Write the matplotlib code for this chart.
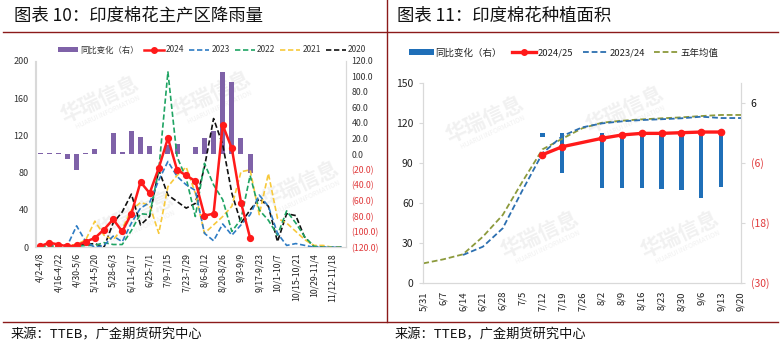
import matplotlib
matplotlib.use("Agg")
import matplotlib.pyplot as plt
import numpy as np
import pandas as pd
from matplotlib.lines import Line2D
from matplotlib.patches import Patch

plt.rcParams['font.family'] = ['Noto Sans CJK SC', 'DejaVu Sans']
plt.rcParams['axes.unicode_minus'] = False

nan = np.nan

# ---------------- Chart 10: weekly rainfall in cotton regions ----------------
week_labels = [
    "4/2-4/8", "4/9-4/15", "4/16-4/22", "4/23-4/29", "4/30-5/6", "5/7-5/13",
    "5/14-5/20", "5/21-5/27", "5/28-6/3", "6/4-6/10", "6/11-6/17", "6/18-6/24",
    "6/25-7/1", "7/2-7/8", "7/9-7/15", "7/16-7/22", "7/23-7/29", "7/30-8/5",
    "8/6-8/12", "8/13-8/19", "8/20-8/26", "8/27-9/2", "9/3-9/9", "9/10-9/16",
    "9/17-9/23", "9/24-9/30", "10/1-10/7", "10/8-10/14", "10/15-10/21",
    "10/22-10/28", "10/29-11/4", "11/5-11/11", "11/12-11/18", "11/19-11/25",
]
rain_yoy = [1, 1, 1, -6, -20, 1, 7, nan, 27, 3, 29, 22, 10, nan, 12, 13, nan,
            9, 21, 30, 105, 93, 21, -25] + [nan] * 10
rain_2024 = [1, 5, 3, 1, 2, 6, 10, 19, 30, 17, 36, 70, 58, 85, 117, 83, 77, 71,
             34, 36, 131, 106, 48, 10] + [nan] * 10
rain_2023 = [3, 2, 3, 2, 23, 6, 0, 2, 12, 6, 26, 42, 48, 72, 92, 76, 67, 61,
             15, 7, 25, 13, 24, 35, 56, 44, 15, 2, 4, 2, 0, 0, 0, 0]
rain_2022 = [1, 1, 2, 1, 1, 2, 2, 5, 3, 3, 18, 36, 35, 83, 188, 97, 74, 33,
             90, 67, 51, 17, 30, 77, 40, 29, 13, 39, 26, 11, 1, 0, 0, 0]
rain_2021 = [1, 1, 2, 2, 3, 8, 28, 13, 8, 20, 40, 48, 45, 15, 65, 77, 86, 58,
             15, 24, 33, 44, 81, 83, 35, 79, 31, 26, 17, 8, 2, 2, 0, 0]
rain_2020 = [1, 1, 1, 2, 2, 3, 4, 0, 26, 38, 57, 24, 33, 83, 56, 49, 42, 47,
             86, 138, 110, 58, 26, 40, 52, 44, 6, 36, 34, 10, 1, 0, 0, 0]

# ---------------- Chart 11: cotton sowing area ----------------
area_dates = pd.date_range("2024-05-31", "2024-09-20", freq="7D")
area_labels = ["5/31", "6/7", "6/14", "6/21", "6/28", "7/5", "7/12", "7/19",
               "7/26", "8/2", "8/9", "8/16", "8/23", "8/30", "9/6", "9/13", "9/20"]
area_avg5 = [14.5, 17.5, 21.3, 34.5, 50.8, 76, 100, 108, 115.8, 120, 121.5,
             122.5, 123.3, 124, 125, 125.8, 125.8]
area_2023 = [nan, nan, 20.8, 27, 40.8, 69.5, 97, 110, 116.5, 119.5, 121, 122,
             122.6, 123.3, 124.5, 123.5, 123.5]
cur_dates = pd.to_datetime(["2024-07-12", "2024-07-19", "2024-08-02", "2024-08-09",
                            "2024-08-16", "2024-08-23", "2024-08-30", "2024-09-06",
                            "2024-09-13"])
area_2024 = [96, 102, 108.3, 110.8, 112, 112, 112.5, 113, 113]
area_yoy = [-0.8, -8, -11, -11, -11, -11.3, -11.5, -13, -10.8]

W, H = 784, 350
fig = plt.figure(figsize=(W / 100, H / 100), dpi=100)

RED = "#FF1A1A"
NEG = "#E0393B"
SPINE = "#D9D9D9"
FRAME = "#8B1A1A"


def frac_x(px):
    return px / W


def frac_y(py):
    return 1 - py / H


def rect(x0, y0, x1, y1):
    return [frac_x(x0), frac_y(y1), frac_x(x1 - x0), frac_y(y0) - frac_y(y1)]


def paren_fmt(v, dec):
    if v < 0:
        return f"({abs(v):.{dec}f})"
    return f"{v:.{dec}f}"


def style_axes(ax):
    ax.spines["top"].set_visible(False)
    for side in ("left", "right", "bottom"):
        ax.spines[side].set_color(SPINE)
        ax.spines[side].set_linewidth(0.8)
    ax.set_facecolor("none")


def watermark(x, y, size=15):
    fig.text(frac_x(x), frac_y(y), "华瑞信息", fontsize=size, color="#D0D0D0",
             rotation=25, ha="center", va="center", zorder=-5, fontweight="bold",
             alpha=0.3)
    fig.text(frac_x(x + 8), frac_y(y + 12), "HUARUI INFORMATION", fontsize=size * 0.32,
             color="#D0D0D0", rotation=25, ha="center", va="center", zorder=-5,
             alpha=0.3)


# ---------- left chart ----------
x_idx = np.arange(len(week_labels))
axb = fig.add_axes(rect(35.5, 60.7, 346, 247.3))
axl = axb.twinx()
style_axes(axb)
style_axes(axl)

axb.bar(x_idx, rain_yoy, width=0.55, color="#7F62A8", zorder=1)
axb.set_ylim(-120, 120)
axb.set_yticks(np.arange(-120, 121, 20))
axb.yaxis.tick_right()
axb.set_yticklabels([paren_fmt(v, 1) for v in np.arange(-120, 121, 20)])
for lab, v in zip(axb.get_yticklabels(), np.arange(-120, 121, 20)):
    lab.set_color(NEG if v < 0 else "#333333")
axb.tick_params(axis="y", labelsize=6.3, length=0, pad=4)

dash = (0, (3.2, 1.6))
axl.plot(x_idx, rain_2020, color="#111111", lw=1.2, linestyle=dash)
axl.plot(x_idx, rain_2021, color="#F7C93B", lw=1.2, linestyle=dash)
axl.plot(x_idx, rain_2022, color="#1FA463", lw=1.2, linestyle=dash)
axl.plot(x_idx, rain_2023, color="#2E7CC4", lw=1.2, linestyle=dash)
axl.plot(x_idx, rain_2024, color=RED, lw=1.8, marker="o", markersize=4.2)
axl.set_ylim(0, 200)
axl.set_yticks(np.arange(0, 201, 40))
axl.yaxis.tick_left()
axl.tick_params(axis="y", labelsize=6.5, length=0, pad=5, labelcolor="#333333")
axl.set_xlim(-0.5, len(week_labels) - 0.5)

axb.set_xticks(x_idx[::2])
axb.set_xticklabels(week_labels[::2], rotation=90, fontsize=6.3, color="#222222")
axb.tick_params(axis="x", length=0, pad=4)
axl.tick_params(axis="x", length=0)

handles_l = [
    Patch(facecolor="#7F62A8"),
    Line2D([], [], color=RED, lw=1.8, marker="o", markersize=4),
    Line2D([], [], color="#2E7CC4", lw=1.2, linestyle=dash),
    Line2D([], [], color="#1FA463", lw=1.2, linestyle=dash),
    Line2D([], [], color="#F7C93B", lw=1.2, linestyle=dash),
    Line2D([], [], color="#111111", lw=1.2, linestyle=dash),
]
labels_l = ["同比变化（右）", "2024", "2023", "2022", "2021", "2020"]
fig.legend(handles_l, labels_l, loc="center", bbox_to_anchor=(frac_x(212), frac_y(50)),
           ncol=6, frameon=False, fontsize=6.0, handlelength=2.4, handleheight=0.5,
           columnspacing=0.6, handletextpad=0.25, labelcolor="#333333")

# ---------- right chart ----------
axr = fig.add_axes(rect(423.3, 82.7, 741, 282.7))
axr2 = axr.twinx()
style_axes(axr)
style_axes(axr2)

axr.bar(cur_dates, area_yoy, width=1.5, color="#1F6FB8", zorder=1)
axr.set_ylim(-30, 10)
axr.set_yticks([-30, -18, -6, 6])
axr.yaxis.tick_right()
axr.set_yticklabels([paren_fmt(v, 0) for v in [-30, -18, -6, 6]])
for lab, v in zip(axr.get_yticklabels(), [-30, -18, -6, 6]):
    lab.set_color(NEG if v < 0 else "#111111")
axr.tick_params(axis="y", labelsize=7.5, length=3, color=SPINE, pad=4)

axr2.plot(area_dates, area_avg5, color="#8C9A3C", lw=1.3, linestyle=dash)
axr2.plot(area_dates, area_2023, color="#2C6FB0", lw=1.3, linestyle=dash)
axr2.plot(cur_dates, area_2024, color=RED, lw=2.4, marker="o", markersize=4.5)
axr2.set_ylim(0, 150)
axr2.set_yticks(np.arange(0, 151, 30))
axr2.yaxis.tick_left()
axr2.tick_params(axis="y", labelsize=7.5, length=3, color=SPINE, pad=4,
                 labelcolor="#222222")
axr2.set_xlim(area_dates[0], area_dates[-1])

axr.set_xticks(area_dates)
axr.set_xticklabels(area_labels, rotation=90, fontsize=6.8, color="#222222")
axr.tick_params(axis="x", length=0, pad=6)
axr2.tick_params(axis="x", length=0)
axr.set_xlim(area_dates[0], area_dates[-1])

handles_r = [
    Patch(facecolor="#1F6FB8"),
    Line2D([], [], color=RED, lw=2.4, marker="o", markersize=4),
    Line2D([], [], color="#2C6FB0", lw=1.3, linestyle=dash),
    Line2D([], [], color="#8C9A3C", lw=1.3, linestyle=dash),
]
labels_r = ["同比变化（右）", "2024/25", "2023/24", "五年均值"]
fig.legend(handles_r, labels_r, loc="center", bbox_to_anchor=(frac_x(564), frac_y(53)),
           ncol=4, frameon=False, fontsize=6.8, handlelength=2.6, handleheight=0.6,
           columnspacing=1.0, handletextpad=0.2, labelcolor="#222222")

# ---------- watermarks ----------
for (wx, wy) in [(100, 100), (212, 95), (300, 185), (135, 215)]:
    watermark(wx, wy)
for (wx, wy) in [(485, 120), (625, 110), (540, 235), (680, 235)]:
    watermark(wx, wy)

# ---------- titles, rules, sources ----------
fig.text(frac_x(14), frac_y(16), "图表 10：印度棉花主产区降雨量", fontsize=12.5,
         ha="left", va="center", color="#111111")
fig.text(frac_x(397), frac_y(16), "图表 11：印度棉花种植面积", fontsize=12.5,
         ha="left", va="center", color="#111111")

fig.add_artist(Line2D([frac_x(3), frac_x(778)], [frac_y(32.3)] * 2, color=FRAME,
                      lw=1.0, transform=fig.transFigure))
fig.add_artist(Line2D([frac_x(3), frac_x(778)], [frac_y(321.5)] * 2, color=FRAME,
                      lw=1.0, transform=fig.transFigure))
fig.add_artist(Line2D([frac_x(387)] * 2, [frac_y(0), frac_y(321.5)], color=FRAME,
                      lw=1.0, transform=fig.transFigure))

fig.text(frac_x(11), frac_y(335), "来源：TTEB，广金期货研究中心", fontsize=9.5,
         ha="left", va="center", color="#111111")
fig.text(frac_x(395), frac_y(335), "来源：TTEB，广金期货研究中心", fontsize=9.5,
         ha="left", va="center", color="#111111")

fig.savefig("out.png", dpi=100, facecolor="white")
